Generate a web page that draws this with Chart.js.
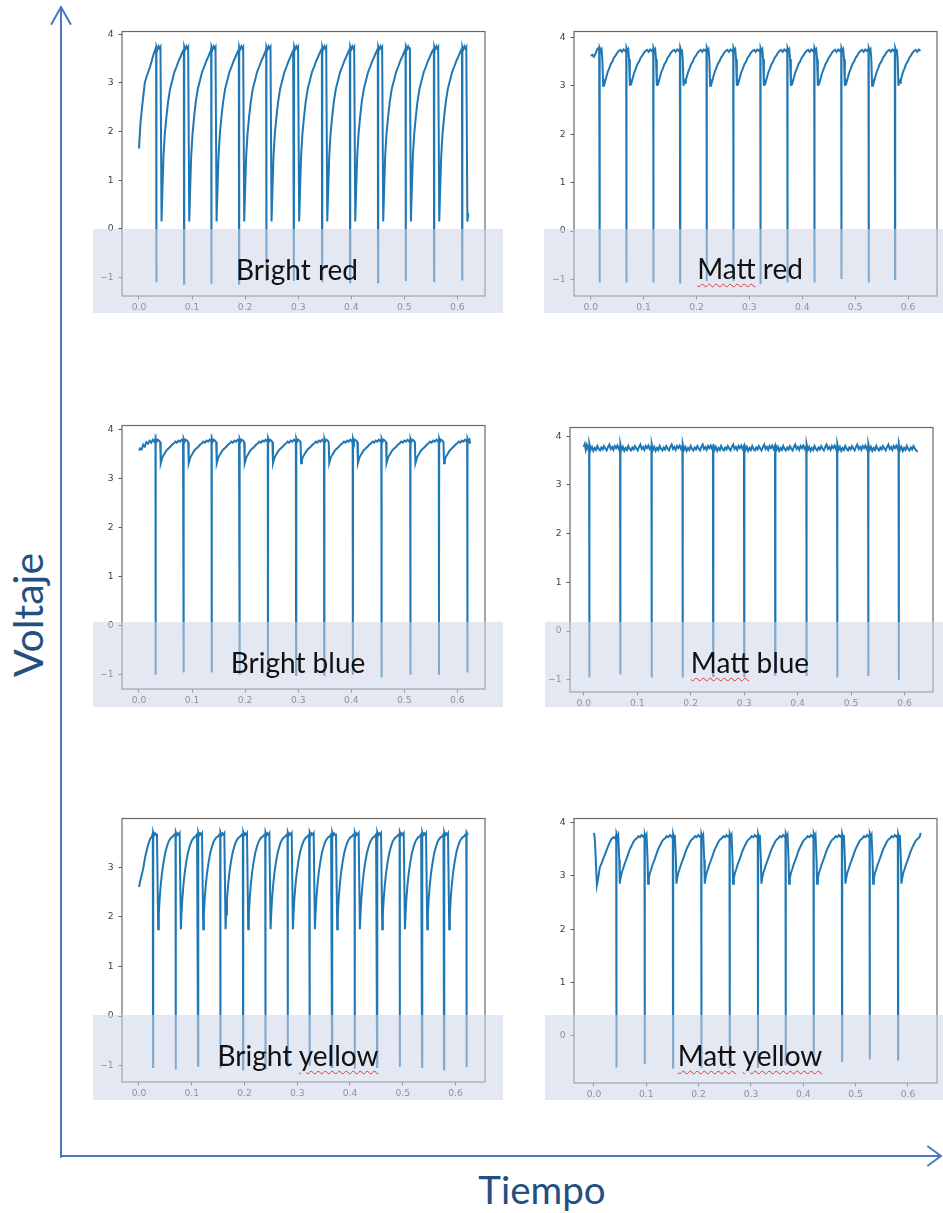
<!DOCTYPE html>
<html>
<head>
<meta charset="utf-8">
<title>Voltaje vs Tiempo</title>
<script src="https://cdn.jsdelivr.net/npm/chart.js@4.4.1/dist/chart.umd.min.js"></script>
<style>
  html, body { margin: 0; padding: 0; background: #fff; }
  #page { position: relative; width: 943px; height: 1213px; overflow: hidden; background: #fff; }
  #page canvas { position: absolute; z-index: 1; }
  .shade { position: absolute; background: rgba(206, 213, 231, 0.55); z-index: 2; }
  .lbl { position: absolute; font-family: Lato, "Open Sans", sans-serif; font-size: 28px; line-height: 1;
         color: #111; white-space: nowrap; transform: translateX(-50%); z-index: 3; }
  .sp { text-decoration: underline wavy #e23a3a; text-decoration-thickness: 1px; text-underline-offset: 4px; }
  .axis-title { position: absolute; font-family: Lato, "Open Sans", sans-serif; line-height: 1; color: #234f82; white-space: nowrap; z-index: 3; }
  #arrows { position: absolute; left: 0; top: 0; z-index: 0; }
</style>
</head>
<body>
<div id="page">
  <svg id="arrows" width="943" height="1213">
    <g stroke="#4a78bf" stroke-width="2" fill="none" stroke-linecap="round" stroke-linejoin="round">
      <line x1="61" y1="1157" x2="61" y2="7"/>
      <polyline points="51.5,24 61,7 70.5,24"/>
      <line x1="61" y1="1156" x2="941" y2="1156"/>
      <polyline points="928,1146.5 941,1156 928,1165.5"/>
    </g>
  </svg>

  <div class="shade" style="left:93px;top:229px;width:410px;height:84px"></div>
  <div class="shade" style="left:544px;top:229px;width:399px;height:84px"></div>
  <div class="shade" style="left:93px;top:622px;width:410px;height:85px"></div>
  <div class="shade" style="left:545px;top:622px;width:398px;height:85px"></div>
  <div class="shade" style="left:93px;top:1015px;width:410px;height:85px"></div>
  <div class="shade" style="left:545px;top:1015px;width:398px;height:85px"></div>

  <div class="lbl" style="left:297px;top:255px">Bright red</div>
  <div class="lbl" style="left:750px;top:254px"><span class="sp">Matt</span> red</div>
  <div class="lbl" style="left:298px;top:648px">Bright blue</div>
  <div class="lbl" style="left:750px;top:648px"><span class="sp">Matt</span> blue</div>
  <div class="lbl" style="left:298px;top:1041px">Bright <span class="sp">yellow</span></div>
  <div class="lbl" style="left:750px;top:1041px"><span class="sp">Matt</span> <span class="sp">yellow</span></div>

  <div class="axis-title" style="left:26.5px;top:614.5px;font-size:41px;transform:translate(-50%,-50%) rotate(-90deg)">Voltaje</div>
  <div class="axis-title" style="left:542px;top:1170px;font-size:38.5px;transform:translateX(-50%)">Tiempo</div>
</div>

<script>
// ---- tick labels ----
const xTicks = [0, 0.1, 0.2, 0.3, 0.4, 0.5, 0.6];
const yTicksFull = [-1, 0, 1, 2, 3, 4];
const yTicksBrightYellow = [-1, 0, 1, 2, 3];
const yTicksMattYellow = [0, 1, 2, 3, 4];

// ---- Bright red ----
const brStartT = [0, 0.003, 0.0075, 0.011, 0.015, 0.020, 0.024, 0.027, 0.030, 0.0318];
const brStartV = [1.65, 2.2, 2.67, 3.0, 3.15, 3.3, 3.45, 3.57, 3.66, 3.72];
const brSpikeT = [0.0327, 0.0849, 0.1364, 0.1885, 0.240, 0.292, 0.345, 0.3977, 0.4504, 0.5026, 0.556, 0.609];
const brSpikeMin = [-1.10, -1.13, -1.13, -1.13, -1.07, -1.07, -1.07, -1.10, -1.10, -1.07, -1.07, -1.04];
const brCycleDt = [-0.0004, 0, 0.0004, 0.002, 0.0045, 0.0065, 0.0078, 0.0098, 0.0115, 0.0135, 0.016, 0.019, 0.022, 0.026, 0.030, 0.034, 0.038, 0.042, 0.045, 0.048, 0.0505];
const brCycleV  = [3.70, null, 3.74, 3.68, 3.75, 3.70, 3.73, 0.15, 0.80, 1.50, 1.95, 2.30, 2.60, 2.88, 3.05, 3.22, 3.33, 3.45, 3.52, 3.60, 3.66];
const brEnd = [0.6205, 0.32];

// ---- Matt red ----
const mrStartT = [0, 0.003, 0.006, 0.009, 0.012, 0.0145, 0.016];
const mrStartV = [3.62, 3.64, 3.60, 3.66, 3.75, 3.78, 3.74];
const mrSpikeT = [0.017, 0.0675, 0.1185, 0.169, 0.2193, 0.2698, 0.321, 0.372, 0.423, 0.474, 0.5256, 0.5754];
const mrSpikeMin = [-1.06, -1.06, -1.06, -1.06, -1.03, -1.03, -1.09, -1.06, -1.06, -0.99, -1.06, -0.99];
const mrCycleDt = [-0.0004, 0, 0.0004, 0.002, 0.0035, 0.005, 0.0065, 0.008, 0.0095, 0.011, 0.013, 0.015, 0.018, 0.021, 0.024, 0.027, 0.030, 0.033, 0.036, 0.039, 0.042, 0.045, 0.048];
const mrCycleV  = [3.76, null, 3.78, 3.72, 3.75, 3.55, 3.00, 3.10, 3.06, 3.12, 3.20, 3.28, 3.36, 3.45, 3.50, 3.58, 3.62, 3.68, 3.72, 3.74, 3.70, 3.75, 3.72];
const mrEnd = [0.6245, 3.72];

// ---- Bright blue ----
const bbStartT = [0, 0.002, 0.005, 0.008, 0.011, 0.014, 0.017, 0.020, 0.023, 0.026, 0.029, 0.031];
const bbStartV = [3.58, 3.62, 3.60, 3.70, 3.66, 3.75, 3.72, 3.78, 3.74, 3.80, 3.76, 3.82];
const bbSpikeT = [0.0315, 0.0842, 0.137, 0.1897, 0.243, 0.296, 0.349, 0.403, 0.457, 0.5114, 0.5653, 0.6188];
const bbSpikeMin = [-1.01, -0.96, -0.96, -1.01, -1.01, -1.01, -1.01, -1.01, -1.06, -1.01, -1.01, -0.96];
const bbCycleDt = [-0.0004, 0, 0.0004, 0.002, 0.004, 0.0065, 0.0085, 0.0095, 0.011, 0.013, 0.016, 0.019, 0.022, 0.025, 0.028, 0.031, 0.034, 0.037, 0.040, 0.043, 0.046, 0.049, 0.0515];
const bbCycleV  = [3.80, null, 3.82, 3.76, 3.80, 3.78, 3.75, 3.32, 3.38, 3.45, 3.50, 3.56, 3.60, 3.63, 3.66, 3.70, 3.72, 3.76, 3.74, 3.78, 3.76, 3.80, 3.77];
const bbEnd = [0.624, 3.72];

// ---- Matt blue ----
const mbStartT = [0, 0.002, 0.004, 0.006, 0.008, 0.0098];
const mbStartV = [3.78, 3.84, 3.72, 3.82, 3.75, 3.80];
const mbSpikeT = [0.0105, 0.0684, 0.127, 0.185, 0.242, 0.300, 0.358, 0.4165, 0.474, 0.532, 0.589];
const mbSpikeMin = [-0.95, -0.89, -0.95, -0.95, -0.92, -0.92, -0.89, -0.92, -0.95, -0.92, -1.00];
const mbCycleDt = [-0.0004, 0, 0.0004, 0.0025, 0.005, 0.0075, 0.010, 0.0125, 0.015, 0.0175, 0.020, 0.0225, 0.025, 0.0275, 0.030, 0.0325, 0.035, 0.0375, 0.040, 0.0425, 0.045, 0.0475, 0.050, 0.0525, 0.055];
const mbCycleV  = [3.80, null, 3.84, 3.72, 3.78, 3.70, 3.76, 3.72, 3.80, 3.74, 3.71, 3.77, 3.73, 3.80, 3.75, 3.71, 3.78, 3.83, 3.74, 3.78, 3.72, 3.80, 3.76, 3.81, 3.74];
const mbEnd = [0.623, 3.70];

// ---- Bright yellow ----
const byStartT = [0, 0.003, 0.0076, 0.012, 0.017, 0.021, 0.0245, 0.026];
const byStartV = [2.60, 2.75, 2.95, 3.22, 3.44, 3.57, 3.62, 3.68];
const bySpikeT = [0.0266, 0.0696, 0.112, 0.1543, 0.1973, 0.2397, 0.282, 0.3237, 0.366, 0.409, 0.4514, 0.4944, 0.5367, 0.5784, 0.621];
const bySpikeMin = [-1.03, -1.08, -1.00, -1.06, -1.08, -1.08, -1.03, -1.00, -1.03, -1.06, -1.03, -1.03, -1.03, -1.08, -1.03];
const byCycleDt = [-0.0004, 0, 0.0004, 0.002, 0.004, 0.006, 0.0075, 0.0098, 0.011, 0.0125, 0.0145, 0.017, 0.020, 0.023, 0.026, 0.029, 0.032, 0.035, 0.038, 0.0405];
const byCycleV  = [3.66, null, 3.70, 3.64, 3.68, 3.65, 3.68, 1.75, 2.05, 2.35, 2.62, 2.88, 3.10, 3.28, 3.40, 3.50, 3.56, 3.60, 3.62, 3.66];
const byEnd = [0.6235, 3.65];

// ---- Matt yellow ----
const myStartT = [0, 0.0015, 0.003, 0.0055, 0.008, 0.011, 0.014, 0.017, 0.021, 0.025, 0.029, 0.033, 0.037, 0.040, 0.042];
const myStartV = [3.80, 3.70, 3.40, 2.82, 2.95, 3.15, 3.22, 3.30, 3.40, 3.50, 3.60, 3.68, 3.72, 3.70, 3.75];
const mySpikeT = [0.0428, 0.0969, 0.151, 0.2052, 0.2593, 0.3134, 0.3663, 0.4198, 0.474, 0.5269, 0.581];
const mySpikeMin = [-0.59, -0.53, -0.59, -0.60, -0.60, -0.60, -0.55, -0.55, -0.47, -0.44, -0.44];
const myCycleDt = [-0.0004, 0, 0.0004, 0.002, 0.0035, 0.0055, 0.0065, 0.008, 0.010, 0.0125, 0.015, 0.018, 0.021, 0.024, 0.027, 0.030, 0.033, 0.036, 0.039, 0.042, 0.045, 0.048, 0.051];
const myCycleV  = [3.76, null, 3.78, 3.72, 3.76, 3.30, 2.85, 2.95, 3.05, 3.12, 3.20, 3.28, 3.36, 3.45, 3.52, 3.58, 3.64, 3.68, 3.70, 3.74, 3.72, 3.76, 3.73];
const myEnd = [0.624, 3.80];

// Assemble one trace: the opening stretch, then one reset cycle per spike.
function buildSeries(startT, startV, spikeT, spikeMin, cycDt, cycV, endPt) {
  const pts = startT.map((t, i) => ({ x: t, y: startV[i] }));
  spikeT.forEach((ts, i) => {
    const next = i + 1 < spikeT.length ? spikeT[i + 1] : endPt[0];
    cycDt.forEach((d, k) => {
      const t = ts + d;
      if (d > 0 && t >= next - 0.0006) return;
      pts.push({ x: t, y: cycV[k] === null ? spikeMin[i] : cycV[k] });
    });
  });
  pts.push({ x: endPt[0], y: endPt[1] });
  return pts;
}

// Panel layout: plot frame [left, top, right, bottom] in page pixels and axis ranges.
const panels = [
  { frame: [122, 24, 485, 296], xr: [-0.032, 0.652], yr: [-1.38, 4.054], yTicks: yTicksFull,
    data: buildSeries(brStartT, brStartV, brSpikeT, brSpikeMin, brCycleDt, brCycleV, brEnd) },
  { frame: [574, 24, 937, 296], xr: [-0.0316, 0.6548], yr: [-1.34, 4.12], yTicks: yTicksFull,
    data: buildSeries(mrStartT, mrStartV, mrSpikeT, mrSpikeMin, mrCycleDt, mrCycleV, mrEnd) },
  { frame: [122, 418, 485, 689], xr: [-0.032, 0.652], yr: [-1.30, 4.09], yTicks: yTicksFull,
    data: buildSeries(bbStartT, bbStartV, bbSpikeT, bbSpikeMin, bbCycleDt, bbCycleV, bbEnd) },
  { frame: [570, 420, 933, 692], xr: [-0.0256, 0.653], yr: [-1.25, 4.18], yTicks: yTicksFull,
    data: buildSeries(mbStartT, mbStartV, mbSpikeT, mbSpikeMin, mbCycleDt, mbCycleV, mbEnd) },
  { frame: [122, 811, 485, 1082], xr: [-0.0322, 0.656], yr: [-1.33, 3.98], yTicks: yTicksBrightYellow,
    data: buildSeries(byStartT, byStartV, bySpikeT, bySpikeMin, byCycleDt, byCycleV, byEnd) },
  { frame: [574, 811, 937, 1083], xr: [-0.0382, 0.6555], yr: [-0.88, 4.07], yTicks: yTicksMattYellow,
    data: buildSeries(myStartT, myStartV, mySpikeT, mySpikeMin, myCycleDt, myCycleV, myEnd) }
];

// Plot frame drawn on all four sides, above the trace.
const framePlugin = {
  id: 'frameBox',
  afterDatasetsDraw(chart) {
    const a = chart.chartArea, ctx = chart.ctx;
    ctx.save();
    ctx.strokeStyle = '#6a6a6a';
    ctx.lineWidth = 1.2;
    ctx.strokeRect(a.left, a.top, a.right - a.left, a.bottom - a.top);
    ctx.restore();
  }
};

const tickFont = { family: 'DejaVu Sans', size: 9.2 };
const fmtY = v => (v < 0 ? '\u2212' + Math.abs(v) : String(v));

panels.forEach(p => {
  const [L, T, R, B] = p.frame;
  const padL = 40, padT = 3, padR = 3, padB = 24;
  const cv = document.createElement('canvas');
  const w = R - L + padL + padR, h = B - T + padT + padB;
  cv.width = w; cv.height = h;
  cv.style.width = w + 'px'; cv.style.height = h + 'px';
  cv.style.left = (L - padL) + 'px'; cv.style.top = (T - padT) + 'px';
  document.getElementById('page').appendChild(cv);

  new Chart(cv.getContext('2d'), {
    type: 'line',
    data: {
      datasets: [{
        data: p.data,
        borderColor: '#1f77b4',
        borderWidth: 2,
        pointRadius: 0,
        tension: 0,
        fill: false
      }]
    },
    options: {
      responsive: false,
      animation: false,
      devicePixelRatio: 1,
      layout: { padding: { left: 0, top: padT, right: padR, bottom: 0 } },
      plugins: { legend: { display: false }, tooltip: { enabled: false } },
      scales: {
        x: {
          type: 'linear', bounds: 'data', min: p.xr[0], max: p.xr[1],
          afterBuildTicks: s => { s.ticks = xTicks.map(v => ({ value: v })); },
          afterFit: s => { s.height = padB; },
          ticks: { autoSkip: false, maxRotation: 0, padding: 3, font: tickFont, color: '#3c3c3c',
                   callback: v => Number(v).toFixed(1) },
          grid: { display: true, drawOnChartArea: false, drawTicks: true, tickLength: 3.5, color: '#555', lineWidth: 1 },
          border: { display: false }
        },
        y: {
          type: 'linear', bounds: 'data', min: p.yr[0], max: p.yr[1],
          afterBuildTicks: s => { s.ticks = p.yTicks.map(v => ({ value: v })); },
          afterFit: s => { s.width = padL; },
          ticks: { autoSkip: false, padding: 5, font: tickFont, color: '#3c3c3c', callback: v => fmtY(v) },
          grid: { display: true, drawOnChartArea: false, drawTicks: true, tickLength: 3.5, color: '#555', lineWidth: 1 },
          border: { display: false }
        }
      }
    },
    plugins: [framePlugin]
  });
});
</script>
</body>
</html>
